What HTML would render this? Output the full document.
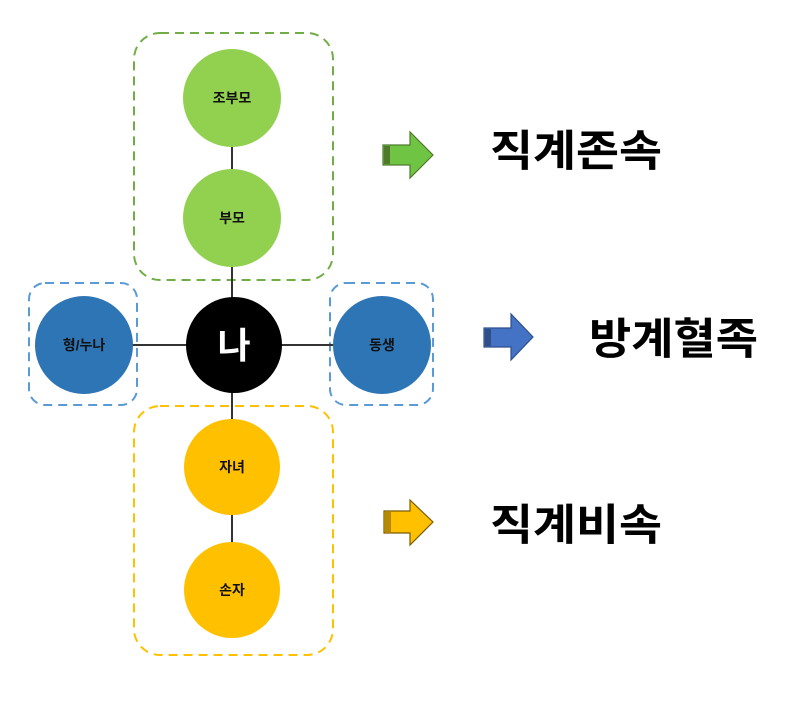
<!DOCTYPE html>
<html><head><meta charset="utf-8"><style>
html,body{margin:0;padding:0;background:#fff;}
svg{display:block;}
text{font-family:"Liberation Sans","Noto Sans CJK KR",sans-serif;font-weight:bold;}
</style></head><body>
<svg width="795" height="701" viewBox="0 0 795 701" xmlns="http://www.w3.org/2000/svg">
<!-- dashed groups -->
<rect x="134" y="33" width="199" height="247" rx="26" fill="none" stroke="#70ad47" stroke-width="2" stroke-dasharray="9,6"/>
<rect x="29" y="283" width="108" height="122" rx="16" fill="none" stroke="#5b9bd5" stroke-width="2" stroke-dasharray="9,6"/>
<rect x="330" y="283" width="103" height="122" rx="16" fill="none" stroke="#5b9bd5" stroke-width="2" stroke-dasharray="9,6"/>
<rect x="134" y="406" width="199" height="249" rx="26" fill="none" stroke="#ffc000" stroke-width="2" stroke-dasharray="9,6"/>
<!-- lines -->
<line x1="232" y1="98" x2="232" y2="590" stroke="#333" stroke-width="2"/>
<line x1="84" y1="345" x2="382" y2="345" stroke="#333" stroke-width="2"/>
<!-- circles -->
<circle cx="232" cy="98" r="49" fill="#92d050"/>
<circle cx="232" cy="218" r="49" fill="#92d050"/>
<circle cx="234" cy="345" r="48" fill="#000"/>
<circle cx="84" cy="345" r="49" fill="#2e75b6"/>
<circle cx="382" cy="345" r="49" fill="#2e75b6"/>
<circle cx="232" cy="467" r="48" fill="#ffc000"/>
<circle cx="232" cy="590" r="48" fill="#ffc000"/>
<g font-size="14" text-anchor="middle" fill="#111">
<text x="232" y="103">조부모</text>
<text x="232" y="223">부모</text>
<text x="84" y="350">형/누나</text>
<text x="382" y="350">동생</text>
<text x="232" y="472">자녀</text>
<text x="232" y="595">손자</text>
</g>
<text x="234" y="358" font-size="36" text-anchor="middle" fill="#fff">나</text>
<!-- arrows -->
<g stroke-width="1.2">
<polygon points="383,145 410,145 410,132 433,155 410,178 410,165 383,165" fill="#70c444" stroke="#4e7a2a"/>
<rect x="384" y="146" width="6" height="18" fill="#4e7a2a"/>
<polygon points="484,328 511,328 511,314 533,337 511,360 511,347 484,347" fill="#4472c4" stroke="#2f4f8a"/>
<rect x="485" y="329" width="6" height="17" fill="#2f4f8a"/>
<polygon points="384,511 410,511 410,500 433,522 410,545 410,533 384,533" fill="#ffc000" stroke="#7a5c00"/>
<rect x="385" y="512" width="6" height="20" fill="#b58900"/>
</g>
<g font-size="43" fill="#000">
<text x="490" y="166" textLength="172" lengthAdjust="spacingAndGlyphs">직계존속</text>
<text x="589" y="354" textLength="169" lengthAdjust="spacingAndGlyphs">방계혈족</text>
<text x="490" y="540" textLength="172" lengthAdjust="spacingAndGlyphs">직계비속</text>
</g>
</svg>
</body></html>
